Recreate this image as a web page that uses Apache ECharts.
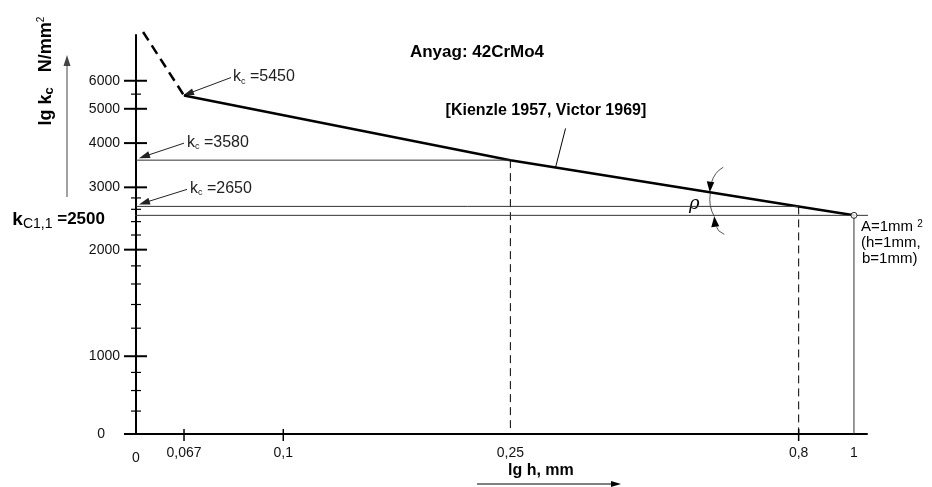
<!DOCTYPE html>
<html><head><meta charset="utf-8">
<script src="https://cdn.jsdelivr.net/npm/echarts@6/dist/echarts.min.js"></script>
<style>html,body{margin:0;padding:0;background:#fff}#c{width:932px;height:487px}</style>
</head><body><div id="c"></div>
<script>
// ---- axis extents (schematic origin "0" sits at the log-axis minimum) ----
const H_MIN = 0.0552, H_MAX = 1.054;
const KC_MIN = 603, KC_MAX = 8080;

// ---- x axis (lg h, mm) ----
const xTickValues = [H_MIN, 0.067, 0.1, 0.25, 0.8, 1];
const xTickLabels = ['0', '0,067', '0,1', '0,25', '0,8', '1'];
const xTickMarks = [0.067, 0.1, 0.8];

// ---- y axis (lg kc, N/mm2) ----
const yTickValues = [KC_MIN, 1000, 2000, 3000, 4000, 5000, 6000];
const yTickLabels = ['0', '1000', '2000', '3000', '4000', '5000', '6000'];
const yMinorTicks = [700, 800, 900, 1200, 1400, 1600, 1800, 2200, 2400, 2600, 2800, 5500];

// ---- Kienzle line ----
const hValues = [0.067, 0.25, 0.8, 1];
const kcValues = [5450, 3580, 2650, 2500];
const kcLabels = ['=5450', '=3580', '=2650'];
const kc11 = 2500;
// dashed extension towards small chip thickness
const hDashed = [0.0568, 0.067];
const kcDashed = [8240, 5450];
// extent of the kc1.1 reference line
const hRef = [0.0501, 1.0586];

const FONT = '"Liberation Sans", Arial, Helvetica, sans-serif';
const chart = echarts.init(document.getElementById('c'));
const pairs = (xs, ys) => xs.map((x, i) => [x, ys[i]]);
function seg(data, width, type, color) {
  return {type: 'line', data, symbol: 'none', silent: true, clip: false, animation: false,
    lineStyle: {color: color || '#000', width, type: type || 'solid'}, z: 3};
}
function txt(x, y, text, font, align, valign, extra) {
  return Object.assign({type: 'text', x, y, silent: true,
    style: Object.assign({text, font, fill: '#111', align: align, verticalAlign: valign,
      textAlign: align, textVerticalAlign: valign}, extra || {})});
}

const series = [
  seg(pairs(hDashed, kcDashed), 2.5, [10, 6]),
  seg(pairs(hValues, kcValues), 2.5),
  seg([[H_MIN, kcValues[1]], [hValues[1], kcValues[1]]], 1, 'solid', '#333'),
  seg([[hValues[1], kcValues[1]], [hValues[1], KC_MIN]], 1, [8, 5], '#000'),
  seg([[H_MIN, kcValues[2]], [hValues[2], kcValues[2]]], 1, 'solid', '#333'),
  seg([[hValues[2], kcValues[2]], [hValues[2], KC_MIN]], 1, [8, 5], '#000'),
  seg(pairs(hRef, [kc11, kc11]), 1, 'solid', '#333'),
  seg([[1, kc11], [1, KC_MIN]], 1, 'solid', '#333'),
  {type: 'scatter', data: [[1, kc11]], symbol: 'circle', symbolSize: 6, silent: true, animation: false,
    itemStyle: {color: '#fff', borderColor: '#000', borderWidth: 1}, z: 6},
  // y major ticks + labels
  {type: 'custom', silent: true, animation: false, clip: false, z: 4,
    data: yTickValues.map((v, i) => [H_MIN, v, i]), encode: {x: 0, y: 1},
    renderItem(params, api) {
      const p = api.coord([api.value(0), api.value(1)]);
      const i = api.value(2);
      return {type: 'group', children: [
        {type: 'line', shape: {x1: p[0] - 12, y1: p[1], x2: p[0] + 11, y2: p[1]}, style: {stroke: '#000', lineWidth: 2}},
        txt(p[0] - (i === 0 ? 31 : 16), p[1], yTickLabels[i], '14px ' + FONT, 'right', 'middle')
      ]};
    }},
  // y minor ticks
  {type: 'custom', silent: true, animation: false, clip: false, z: 4,
    data: yMinorTicks.map(v => [H_MIN, v]), encode: {x: 0, y: 1},
    renderItem(params, api) {
      const p = api.coord([api.value(0), api.value(1)]);
      return {type: 'line', shape: {x1: p[0] - 5, y1: p[1], x2: p[0] + 5, y2: p[1]}, style: {stroke: '#000', lineWidth: 1.2}};
    }},
  // x ticks
  {type: 'custom', silent: true, animation: false, clip: false, z: 4,
    data: xTickMarks.map(v => [v, KC_MIN]), encode: {x: 0, y: 1},
    renderItem(params, api) {
      const p = api.coord([api.value(0), api.value(1)]);
      return {type: 'line', shape: {x1: p[0], y1: p[1] - 5, x2: p[0], y2: p[1] + 7}, style: {stroke: '#000', lineWidth: 1.5}};
    }},
  // x labels
  {type: 'custom', silent: true, animation: false, clip: false, z: 4,
    data: xTickValues.map((v, i) => [v, KC_MIN, i]), encode: {x: 0, y: 1},
    renderItem(params, api) {
      const p = api.coord([api.value(0), api.value(1)]);
      const i = api.value(2);
      return txt(p[0], p[1] + (i === 0 ? 24 : 19), xTickLabels[i], '14px ' + FONT, 'center', 'middle');
    }}
];

chart.setOption({
  animation: false,
  backgroundColor: '#fff',
  grid: {left: 136, right: 65, top: 35, bottom: 53, containLabel: false},
  xAxis: {type: 'log', min: H_MIN, max: H_MAX, logBase: 10,
    axisLine: {show: true, lineStyle: {color: '#000', width: 2}},
    axisTick: {show: false}, axisLabel: {show: false}, splitLine: {show: false}, minorTick: {show: false}},
  yAxis: {type: 'log', min: KC_MIN, max: KC_MAX, logBase: 10,
    axisLine: {show: true, lineStyle: {color: '#000', width: 2}},
    axisTick: {show: false}, axisLabel: {show: false}, splitLine: {show: false}, minorTick: {show: false}},
  series
});

// ---------- annotations anchored to data points ----------
const px = v => chart.convertToPixel({gridIndex: 0}, v);
function kcAt(h) {
  for (let i = 0; i < hValues.length - 1; i++) {
    if (h >= hValues[i] && h <= hValues[i + 1]) {
      const t = (Math.log(h) - Math.log(hValues[i])) / (Math.log(hValues[i + 1]) - Math.log(hValues[i]));
      return Math.exp(Math.log(kcValues[i]) + t * (Math.log(kcValues[i + 1]) - Math.log(kcValues[i])));
    }
  }
  return kcValues[kcValues.length - 1];
}
function arrow(x1, y1, x2, y2, color, lw, L, W) {
  L = L || 10; W = W || 3.5; color = color || '#333'; lw = lw || 1;
  const dx = x2 - x1, dy = y2 - y1, len = Math.hypot(dx, dy), ux = dx / len, uy = dy / len;
  const bx = x2 - ux * L, by = y2 - uy * L;
  return [
    {type: 'line', silent: true, shape: {x1, y1, x2: bx + ux * 2, y2: by + uy * 2}, style: {stroke: color, lineWidth: lw}},
    {type: 'polygon', silent: true, shape: {points: [[x2, y2], [bx - uy * W, by + ux * W], [bx + uy * W, by - ux * W]]}, style: {fill: color}}
  ];
}
const kcRich = {
  k: {fontSize: 16, fontFamily: FONT, fill: '#222', lineHeight: 18},
  c: {fontSize: 9, fontFamily: FONT, fill: '#222', lineHeight: 10, verticalAlign: 'bottom'},
  t: {fontSize: 16, fontFamily: FONT, fill: '#222', lineHeight: 18}
};
const g = [];
// kc = 5450 at the kink
{
  const p = px([hValues[0], kcValues[0]]);
  const hx = p[0] - 1, hy = p[1], tx = hx + 48, ty = hy - 18;
  g.push(...arrow(tx, ty, hx, hy, '#222', 1, 11, 3.5));
  g.push(txt(tx + 2, ty - 1, '{k|k}{c|c}{t| ' + kcLabels[0] + '}', '16px ' + FONT, 'left', 'middle', {rich: kcRich}));
}
// kc = 3580 and 2650 on the axis
[[1, 45], [2, 48]].forEach(([i, dx]) => {
  const p = px([H_MIN, kcValues[i]]);
  const hx = p[0] + 3, hy = p[1] - 2, tx = hx + dx, ty = hy - 15;
  g.push(...arrow(tx, ty, hx, hy, '#222', 1, 11, 3.5));
  g.push(txt(tx + 3, ty - 1, '{k|k}{c|c}{t| ' + kcLabels[i] + '}', '16px ' + FONT, 'left', 'middle', {rich: kcRich}));
});
// kc1,1 = 2500 label
{
  const p = px([hRef[0], kc11]);
  g.push(txt(p[0] - 7, p[1] + 4, '{k|k}{c|C1,1}{v| =2500}', '17px ' + FONT, 'right', 'middle', {rich: {
    k: {fontSize: 19, fontWeight: 'bold', fontFamily: FONT, fill: '#000', lineHeight: 24},
    c: {fontSize: 14, fontFamily: FONT, fill: '#000', lineHeight: 15, verticalAlign: 'bottom'},
    v: {fontSize: 17, fontWeight: 'bold', fontFamily: FONT, fill: '#000', lineHeight: 24}
  }}));
}
// Kienzle reference + leader
{
  const b = px([0.3, kcAt(0.3)]);
  const t = [b[0] + 10, b[1] - 39];
  g.push({type: 'line', silent: true, shape: {x1: b[0], y1: b[1], x2: t[0], y2: t[1]}, style: {stroke: '#000', lineWidth: 1}});
  g.push(txt(t[0] - 120, t[1] - 18, '[Kienzle 1957, Victor 1969]', 'bold 16px ' + FONT, 'left', 'middle', {fill: '#000'}));
}
// rho angle marker
{
  const P = px([0.56, kcAt(0.56)]);
  const Q = px([0.56, kc11]);
  g.push({type: 'bezierCurve', silent: true, shape: {x1: P[0] + 13, y1: P[1] - 25, x2: P[0] + 1, y2: P[1] - 9, cpx1: P[0] + 4, cpy1: P[1] - 20}, style: {stroke: '#555', lineWidth: 1, fill: null}});
  g.push({type: 'polygon', silent: true, shape: {points: [[P[0] - 0.5, P[1]], [P[0] - 3.5, P[1] - 11], [P[0] + 4, P[1] - 10]]}, style: {fill: '#000'}});
  g.push({type: 'bezierCurve', silent: true, shape: {x1: P[0], y1: P[1] + 1, x2: Q[0] + 4, y2: Q[1] + 1, cpx1: P[0] - 2, cpy1: P[1] + 14}, style: {stroke: '#555', lineWidth: 1, fill: null}});
  g.push({type: 'polygon', silent: true, shape: {points: [[Q[0] + 4, Q[1] + 1], [Q[0] + 1, Q[1] + 12], [Q[0] + 9, Q[1] + 11]]}, style: {fill: '#000'}});
  g.push({type: 'bezierCurve', silent: true, shape: {x1: Q[0] + 6, y1: Q[1] + 11, x2: Q[0] + 14, y2: Q[1] + 19, cpx1: Q[0] + 7, cpy1: Q[1] + 16}, style: {stroke: '#555', lineWidth: 1, fill: null}});
  g.push(txt(P[0] - 16, P[1] + 12, 'ρ', 'italic 18px "DejaVu Serif", serif', 'center', 'middle', {fill: '#000'}));
}
// A = 1 mm2 note
{
  const C = px([1, kc11]);
  const f = '15px ' + FONT;
  g.push(txt(C[0] + 7, C[1] + 12, '{t|A=1mm }{s|2}', f, 'left', 'middle', {fill: '#000', rich: {
    t: {fontSize: 15, fontFamily: FONT, fill: '#000', lineHeight: 16},
    s: {fontSize: 10, fontFamily: FONT, fill: '#000', lineHeight: 16, verticalAlign: 'top', padding: [0, 0, 6, 0]}
  }}));
  g.push(txt(C[0] + 7, C[1] + 28, '(h=1mm,', f, 'left', 'middle', {fill: '#000'}));
  g.push(txt(C[0] + 8, C[1] + 44, 'b=1mm)', f, 'left', 'middle', {fill: '#000'}));
}
// material
g.push(txt(477, 52, 'Anyag: 42CrMo4', 'bold 17px ' + FONT, 'center', 'middle', {fill: '#000'}));
// y axis title (rotated) + arrow
g.push({type: 'text', x: 46, y: 71, rotation: Math.PI / 2, silent: true, style: {
  text: '{a|lg k}{c|c}{a|   N/mm}{s|2}', align: 'center', verticalAlign: 'middle', textAlign: 'center', textVerticalAlign: 'middle',
  rich: {
    a: {fontSize: 18, fontWeight: 'bold', fontFamily: FONT, fill: '#000', lineHeight: 20},
    c: {fontSize: 13, fontWeight: 'bold', fontFamily: FONT, fill: '#000', lineHeight: 13, verticalAlign: 'bottom'},
    s: {fontSize: 10, fontFamily: FONT, fill: '#000', lineHeight: 10, verticalAlign: 'top'}
  }}});
g.push(...arrow(67, 197, 67, 55, '#444', 1, 11, 3.5));
// x axis title + arrow
g.push(txt(508, 471, 'lg h, mm', 'bold 16px ' + FONT, 'left', 'middle', {fill: '#000'}));
g.push(...arrow(477, 484, 621, 484, '#000', 1, 10, 3));
chart.setOption({graphic: g});
</script></body></html>
